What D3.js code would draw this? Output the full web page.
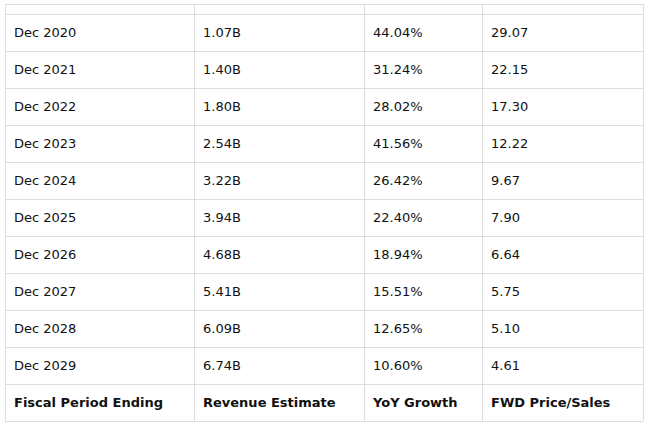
<!DOCTYPE html>
<html><head><meta charset="utf-8">
<script src="https://cdn.jsdelivr.net/npm/d3@7"></script>
<style>body{margin:0;background:#fff}</style>
</head><body><svg id="t" width="649" height="426"></svg>
<script>
const periods = ["Dec 2020","Dec 2021","Dec 2022","Dec 2023","Dec 2024","Dec 2025","Dec 2026","Dec 2027","Dec 2028","Dec 2029"];
const revenue = ["1.07B","1.40B","1.80B","2.54B","3.22B","3.94B","4.68B","5.41B","6.09B","6.74B"];
const growth = ["44.04%","31.24%","28.02%","41.56%","26.42%","22.40%","18.94%","15.51%","12.65%","10.60%"];
const priceSales = ["29.07","22.15","17.30","12.22","9.67","7.90","6.64","5.75","5.10","4.61"];
const headers = ["Fiscal Period Ending","Revenue Estimate","YoY Growth","FWD Price/Sales"];

const svg = d3.select("#t");
const colX = [5, 194, 364, 482, 643];
const rowH = 37, topY = 14;
const rows = periods.map((p, i) => [p, revenue[i], growth[i], priceSales[i]]);
rows.push(headers);
const rowY = i => topY + i * rowH;
const line = "#dddddd";

// horizontal lines
const hy = [4].concat(d3.range(rows.length + 1).map(rowY));
svg.selectAll("line.h").data(hy).enter().append("line")
  .attr("x1", colX[0]).attr("x2", colX[4]).attr("y1", d => d + 0.5).attr("y2", d => d + 0.5)
  .attr("stroke", line);
// vertical lines
svg.selectAll("line.v").data(colX).enter().append("line")
  .attr("x1", d => d + 0.5).attr("x2", d => d + 0.5).attr("y1", 4).attr("y2", rowY(rows.length))
  .attr("stroke", line);

const g = svg.selectAll("g.r").data(rows).enter().append("g")
  .attr("transform", (d, i) => `translate(0,${rowY(i) + rowH / 2})`);
g.selectAll("text").data((d, i) => d.map(v => ({v, h: i === rows.length - 1})))
  .enter().append("text")
  .attr("x", (d, j) => colX[j] + 9).attr("dy", "0.35em")
  .attr("font-family", "Verdana, 'DejaVu Sans', sans-serif").attr("font-size", 13)
  .attr("font-weight", d => d.h ? "bold" : "normal")
  .attr("fill", "#111").text(d => d.v);
</script></body></html>
